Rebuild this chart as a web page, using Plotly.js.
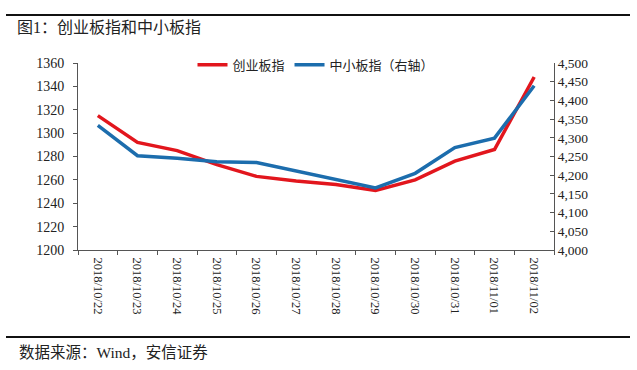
<!DOCTYPE html>
<html>
<head>
<meta charset="utf-8">
<script src="https://cdn.plot.ly/plotly-3.0.1.min.js"></script>
<style>html,body{margin:0;padding:0;background:#fff;}#chart{width:637px;height:370px;}</style>
</head>
<body>
<div id="chart"></div>
<script>
const dates = ["2018/10/22","2018/10/23","2018/10/24","2018/10/25","2018/10/26","2018/10/27","2018/10/28","2018/10/29","2018/10/30","2018/10/31","2018/11/01","2018/11/02"];
const chinextName = "创业板指";
const chinext = [1315, 1292, 1285, 1273, 1263, 1259, 1256, 1251, 1260, 1276, 1286, 1348];
const smeName = "中小板指（右轴）";
const sme = [4333, 4252, 4245, 4236, 4234, 4211, 4188, 4166, 4205, 4274, 4299, 4439];
const leftTicks = [1200,1220,1240,1260,1280,1300,1320,1340,1360];
const rightTicks = [4000,4050,4100,4150,4200,4250,4300,4350,4400,4450,4500];
const titleText = "图1：创业板指和中小板指";
const sourceText = "数据来源：Wind，安信证券";

const FONT = "Liberation Serif, Times New Roman, DejaVu Serif, serif";
const CJK = "Noto Sans CJK SC, sans-serif";
const MIX = "Liberation Serif, Noto Sans CJK SC, serif";

const traces = [
  {x: dates, y: chinext, name: chinextName, type: 'scatter', mode: 'lines',
   line: {color: '#E2161D', width: 3.5}, yaxis: 'y'},
  {x: dates, y: sme, name: smeName, type: 'scatter', mode: 'lines',
   line: {color: '#1C6DAD', width: 3.5}, yaxis: 'y2'}
];

const layout = {
  width: 637, height: 370,
  margin: {l: 78, r: 83, t: 63, b: 120},
  paper_bgcolor: '#fff', plot_bgcolor: '#fff',
  showlegend: true,
  legend: {orientation: 'h', x: 0.5, xanchor: 'center', y: 1.07, yanchor: 'top',
           font: {family: CJK, size: 13, color: '#222'}, bgcolor: 'rgba(0,0,0,0)',
           itemwidth: 30, tracegroupgap: 0},
  title: {text: titleText, x: 17/637, xanchor: 'left', xref: 'container',
          y: 1 - 27/370, yanchor: 'middle', yref: 'container',
          font: {family: MIX, size: 16, color: '#222'}},
  xaxis: {type: 'category', range: [-0.5, dates.length - 0.5], tickson: 'boundaries',
          ticks: 'outside', ticklen: 4, ticklabelstandoff: 4,
          tickcolor: '#555', showline: true, linecolor: '#555', linewidth: 1,
          showgrid: false, zeroline: false, tickangle: 90,
          tickfont: {family: FONT, size: 12.5, color: '#222'}, fixedrange: true},
  yaxis: {range: [1200, 1360], tickvals: leftTicks, ticktext: leftTicks.map(String),
          ticks: 'outside', ticklen: 4, tickcolor: '#555', showline: true,
          ticklabelstandoff: 6,
          linecolor: '#555', linewidth: 1, showgrid: false, zeroline: false,
          tickfont: {family: FONT, size: 14, color: '#222'}},
  yaxis2: {range: [4000, 4500], overlaying: 'y', side: 'right', tickvals: rightTicks,
           ticktext: rightTicks.map(v => v.toLocaleString('en-US')),
           ticks: 'inside', ticklen: 4, tickcolor: '#555', showline: true,
           linecolor: '#555', linewidth: 1, showgrid: false, zeroline: false,
           tickfont: {family: FONT, size: 13.5, color: '#222'}},
  shapes: [
    {type: 'line', xref: 'paper', yref: 'paper', x0: (6-78)/476, x1: (630-78)/476,
     y0: (250-15)/187, y1: (250-15)/187, line: {color: '#111', width: 2}},
    {type: 'line', xref: 'paper', yref: 'paper', x0: (6-78)/476, x1: (630-78)/476,
     y0: (250-337)/187, y1: (250-337)/187, line: {color: '#111', width: 2}}
  ],
  annotations: [
    {text: sourceText, xref: 'paper', yref: 'paper', x: (17-78)/476, xanchor: 'left',
     y: (250-352)/187, yanchor: 'middle', showarrow: false,
     font: {family: MIX, size: 15.5, color: '#222'}}
  ]
};

Plotly.newPlot('chart', traces, layout, {displayModeBar: false, staticPlot: true});
</script>
</body>
</html>
